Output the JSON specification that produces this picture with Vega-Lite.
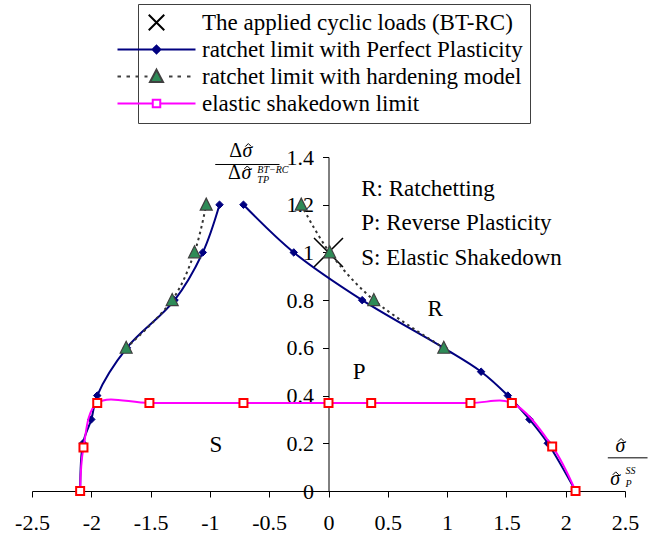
{
  "$schema": "https://vega.github.io/schema/vega-lite/v6.json",
  "width": 593,
  "height": 334,
  "autosize": {"type": "none"},
  "padding": {"left": 32, "top": 157, "right": 30, "bottom": 47},
  "background": "white",
  "config": {"view": {"stroke": null}, "font": "Liberation Serif"},
  "datasets": {
    "pts": [
      {"series": "The applied cyclic loads (BT-RC)", "b": "A", "x": 0, "y": 1.0},
      {"series": "ratchet limit with Perfect Plasticity", "b": "L", "x": -2.094, "y": 0},
      {"series": "ratchet limit with Perfect Plasticity", "b": "L", "x": -2.07, "y": 0.2},
      {"series": "ratchet limit with Perfect Plasticity", "b": "L", "x": -2.0, "y": 0.3},
      {"series": "ratchet limit with Perfect Plasticity", "b": "L", "x": -1.95, "y": 0.4},
      {"series": "ratchet limit with Perfect Plasticity", "b": "L", "x": -1.70, "y": 0.6},
      {"series": "ratchet limit with Perfect Plasticity", "b": "L", "x": -1.298, "y": 0.8},
      {"series": "ratchet limit with Perfect Plasticity", "b": "L", "x": -1.06, "y": 1.0},
      {"series": "ratchet limit with Perfect Plasticity", "b": "L", "x": -0.919, "y": 1.2},
      {"series": "ratchet limit with Perfect Plasticity", "b": "R", "x": -0.717, "y": 1.2},
      {"series": "ratchet limit with Perfect Plasticity", "b": "R", "x": -0.293, "y": 1.0},
      {"series": "ratchet limit with Perfect Plasticity", "b": "R", "x": 0.284, "y": 0.8},
      {"series": "ratchet limit with Perfect Plasticity", "b": "R", "x": 0.97, "y": 0.6},
      {"series": "ratchet limit with Perfect Plasticity", "b": "R", "x": 1.287, "y": 0.5},
      {"series": "ratchet limit with Perfect Plasticity", "b": "R", "x": 1.512, "y": 0.4},
      {"series": "ratchet limit with Perfect Plasticity", "b": "R", "x": 1.695, "y": 0.3},
      {"series": "ratchet limit with Perfect Plasticity", "b": "R", "x": 1.849, "y": 0.2},
      {"series": "ratchet limit with Perfect Plasticity", "b": "R", "x": 2.083, "y": 0},
      {"series": "ratchet limit with hardening model", "b": "L", "x": -1.706, "y": 0.6},
      {"series": "ratchet limit with hardening model", "b": "L", "x": -1.318, "y": 0.8},
      {"series": "ratchet limit with hardening model", "b": "L", "x": -1.13, "y": 1.0},
      {"series": "ratchet limit with hardening model", "b": "L", "x": -1.031, "y": 1.2},
      {"series": "ratchet limit with hardening model", "b": "R", "x": -0.23, "y": 1.2},
      {"series": "ratchet limit with hardening model", "b": "R", "x": 0.01, "y": 1.0},
      {"series": "ratchet limit with hardening model", "b": "R", "x": 0.382, "y": 0.8},
      {"series": "ratchet limit with hardening model", "b": "R", "x": 0.972, "y": 0.6},
      {"series": "elastic shakedown limit", "b": "A", "x": -2.094, "y": 0},
      {"series": "elastic shakedown limit", "b": "A", "x": -2.066, "y": 0.182},
      {"series": "elastic shakedown limit", "b": "A", "x": -1.95, "y": 0.369},
      {"series": "elastic shakedown limit", "b": "A", "x": -1.51, "y": 0.369},
      {"series": "elastic shakedown limit", "b": "A", "x": -0.717, "y": 0.369},
      {"series": "elastic shakedown limit", "b": "A", "x": 0, "y": 0.369},
      {"series": "elastic shakedown limit", "b": "A", "x": 0.36, "y": 0.369},
      {"series": "elastic shakedown limit", "b": "A", "x": 1.197, "y": 0.369},
      {"series": "elastic shakedown limit", "b": "A", "x": 1.546, "y": 0.369},
      {"series": "elastic shakedown limit", "b": "A", "x": 1.886, "y": 0.187},
      {"series": "elastic shakedown limit", "b": "A", "x": 2.083, "y": 0}
    ]
  },
  "encoding": {
    "x": {"field": "x", "type": "quantitative",
      "scale": {"domain": [-2.5, 2.5], "nice": false, "zero": false},
      "axis": {"title": null, "grid": false, "values": [-2.5, -2, -1.5, -1, -0.5, 0, 0.5, 1, 1.5, 2, 2.5],
        "labelExpr": "datum.value + ''", "domainColor": "black", "tickColor": "black", "labelColor": "black",
        "labelFont": "Liberation Serif", "labelFontSize": 22, "tickSize": 6, "labelPadding": 15,
        "labelFlush": false, "labelOverlap": false, "labelBound": false}},
    "y": {"field": "y", "type": "quantitative",
      "scale": {"domain": [0, 1.4], "nice": false, "zero": false},
      "axis": {"title": null, "grid": false, "orient": "left", "offset": -296.5,
        "values": [0, 0.2, 0.4, 0.6, 0.8, 1, 1.2, 1.4],
        "labelExpr": "datum.value + ''", "domainColor": "black", "tickColor": "black", "labelColor": "black",
        "labelFont": "Liberation Serif", "labelFontSize": 22, "tickSize": 6, "labelPadding": 9,
        "labelFlush": false, "labelOverlap": false, "labelBound": false}}
  },
  "layer": [
    {
      "data": {"values": []},
      "mark": {"type": "point", "filled": true, "opacity": 1},
      "encoding": {
        "shape": {"field": "series", "type": "nominal",
          "scale": {"domain": ["The applied cyclic loads (BT-RC)", "ratchet limit with Perfect Plasticity", "ratchet limit with hardening model", "elastic shakedown limit"],
            "range": ["M-1.55,-1.55L1.55,1.55M-1.55,1.55L1.55,-1.55", "M-7.8,0L7.8,0M-0.78,0L0,-0.78L0.78,0L0,0.78Z", "M0,-1.35L1.3,1.1L-1.3,1.1ZM-7.8,0L-7.1,0M-6,0L-5.3,0M-4.2,0L-3.5,0M-2.4,0L-1.8,0M2.5,0L3.2,0M4.2,0L4.9,0M6.1,0L6.8,0", "M-7.8,0L-0.75,0M0.75,0L7.8,0M-0.75,-0.75L0.75,-0.75L0.75,0.75L-0.75,0.75Z"]},
          "legend": {
            "title": null, "orient": "none", "legendX": 106, "legendY": -153,
            "padding": 7, "strokeColor": "#404040", "fillColor": "white",
            "labelFont": "Liberation Serif", "labelFontSize": 23, "labelColor": "black", "labelLimit": 0,
            "labelExpr": "datum.label + '\u00a0\u00a0\u00a0\u00a0'",
            "symbolOffset": 0, "labelOffset": 34, "rowPadding": 3,
            "symbolSize": 100, "symbolStrokeWidth": 2, "symbolOpacity": 1
          }},
        "fill": {"field": "series", "type": "nominal",
          "scale": {"domain": ["The applied cyclic loads (BT-RC)", "ratchet limit with Perfect Plasticity", "ratchet limit with hardening model", "elastic shakedown limit"],
            "range": ["transparent", "#000080", "#2e8b57", "#ffffff"]}},
        "stroke": {"field": "series", "type": "nominal",
          "scale": {"domain": ["The applied cyclic loads (BT-RC)", "ratchet limit with Perfect Plasticity", "ratchet limit with hardening model", "elastic shakedown limit"],
            "range": ["#000000", "#000080", "#404040", "#ff00ff"]}}
      }
    },
    {
      "data": {"name": "pts"},
      "transform": [{"filter": "datum.series == 'The applied cyclic loads (BT-RC)'"}],
      "mark": {"type": "point", "shape": "M-1,-1L1,1M-1,1L1,-1", "filled": false, "opacity": 1, "size": 841, "strokeWidth": 1.5, "stroke": "#000000", "fill": "transparent"}
    },
    {
      "data": {"name": "pts"},
      "transform": [{"filter": "datum.series == 'ratchet limit with Perfect Plasticity'"}],
      "mark": {"type": "line", "color": "#000080", "strokeWidth": 2, "interpolate": "catmull-rom"},
      "encoding": {"detail": {"field": "b"}}
    },
    {
      "data": {"name": "pts"},
      "transform": [{"filter": "datum.series == 'ratchet limit with Perfect Plasticity'"}],
      "mark": {"type": "point", "shape": "diamond", "filled": true, "opacity": 1, "size": 56, "strokeWidth": 1, "fill": "#000080", "stroke": "#000080"}
    },
    {
      "data": {"name": "pts"},
      "transform": [{"filter": "datum.series == 'ratchet limit with hardening model'"}],
      "mark": {"type": "line", "color": "#333333", "strokeWidth": 2, "strokeDash": [2.5, 3.5], "interpolate": "catmull-rom"},
      "encoding": {"detail": {"field": "b"}}
    },
    {
      "data": {"name": "pts"},
      "transform": [{"filter": "datum.series == 'ratchet limit with hardening model'"}],
      "mark": {"type": "point", "shape": "M0,-1.1L1,0.9L-1,0.9Z", "filled": true, "opacity": 1, "size": 144, "strokeWidth": 1.2, "fill": "#2e8b57", "stroke": "#404040"}
    },
    {
      "data": {"name": "pts"},
      "transform": [{"filter": "datum.series == 'elastic shakedown limit'"}],
      "mark": {"type": "line", "color": "#ff00ff", "strokeWidth": 2, "interpolate": "catmull-rom"},
      "encoding": {"detail": {"field": "b"}}
    },
    {
      "data": {"name": "pts"},
      "transform": [{"filter": "datum.series == 'elastic shakedown limit'"}],
      "mark": {"type": "point", "shape": "square", "filled": true, "opacity": 1, "size": 64, "strokeWidth": 2, "fill": "#ffffff", "stroke": "#ff0000"}
    },
    {
      "data": {"values": [
        {"t": "R: Ratchetting", "x": 0.276, "y": 1.236},
        {"t": "P: Reverse Plasticity", "x": 0.276, "y": 1.092},
        {"t": "S: Elastic Shakedown", "x": 0.276, "y": 0.946},
        {"t": "R", "x": 0.834, "y": 0.7325},
        {"t": "P", "x": 0.205, "y": 0.471},
        {"t": "S", "x": -1.003, "y": 0.1635}
      ]},
      "mark": {"type": "text", "align": "left", "baseline": "alphabetic", "font": "Liberation Serif", "fontSize": 23, "color": "black"},
      "encoding": {"text": {"field": "t"}}
    },
    {
      "data": {"values": [
        {"x": -0.955, "x2": -0.413, "y": 1.3686},
        {"x": 2.355, "x2": 2.69, "y": 0.139}
      ]},
      "mark": {"type": "rule", "color": "black", "strokeWidth": 1},
      "encoding": {"x2": {"field": "x2"}}
    },
    {
      "data": {"values": [
        {"t": "Δ", "x": -0.729, "y": 1.40},
        {"t": "Δ", "x": -0.738, "y": 1.3057}
      ]},
      "mark": {"type": "text", "align": "right", "baseline": "alphabetic", "font": "Liberation Serif", "fontSize": 20, "color": "black"},
      "encoding": {"text": {"field": "t"}}
    },
    {
      "data": {"values": [
        {"t": "σ", "x": -0.725, "y": 1.40},
        {"t": "σ", "x": -0.734, "y": 1.3057},
        {"t": "σ", "x": 2.42, "y": 0.1635},
        {"t": "σ", "x": 2.375, "y": 0.024}
      ]},
      "mark": {"type": "text", "align": "left", "baseline": "alphabetic", "font": "Liberation Serif", "fontStyle": "italic", "fontSize": 20, "color": "black"},
      "encoding": {"text": {"field": "t"}}
    },
    {
      "data": {"values": [
        {"x": -0.676, "y": 1.45},
        {"x": -0.685, "y": 1.356},
        {"x": 2.467, "y": 0.2135},
        {"x": 2.422, "y": 0.074}
      ]},
      "mark": {"type": "point", "shape": "M-1,0.5L0,-0.5L1,0.5", "size": 36, "filled": false, "stroke": "black", "strokeWidth": 1, "opacity": 1}
    },
    {
      "data": {"values": [
        {"t": "BT−RC", "x": -0.60, "y": 1.331},
        {"t": "TP", "x": -0.60, "y": 1.291},
        {"t": "SS", "x": 2.505, "y": 0.073},
        {"t": "P", "x": 2.505, "y": 0.017}
      ]},
      "mark": {"type": "text", "align": "left", "baseline": "alphabetic", "font": "Liberation Serif", "fontStyle": "italic", "fontSize": 10, "color": "black"},
      "encoding": {"text": {"field": "t"}}
    }
  ]
}
